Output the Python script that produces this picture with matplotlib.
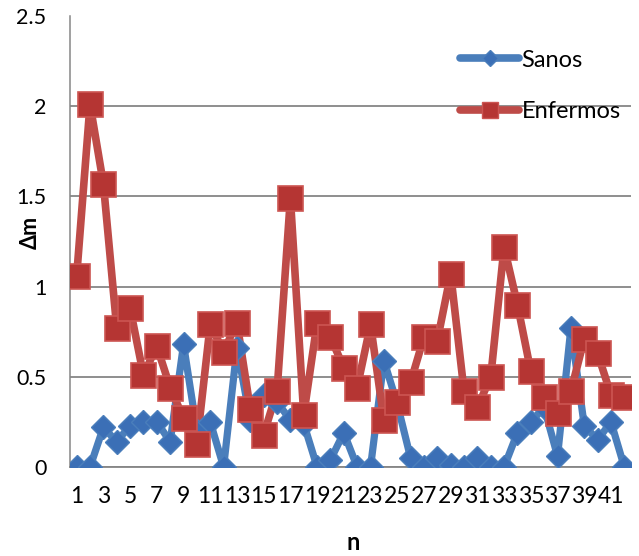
import matplotlib
matplotlib.use("Agg")
import matplotlib.pyplot as plt
from matplotlib.lines import Line2D

n = list(range(1, 43))
sanos = [0, 0, 0.22, 0.14, 0.23, 0.25, 0.25, 0.14, 0.68, 0.20,
         0.25, 0, 0.66, 0.26, 0.40, 0.36, 0.26, 0.24, 0, 0.04,
         0.19, 0, 0, 0.59, 0.35, 0.05, 0, 0.05, 0.01, 0,
         0.05, 0, 0, 0.19, 0.25, 0.33, 0.06, 0.77, 0.23, 0.15,
         0.25, 0]
enfermos = [1.06, 2.01, 1.57, 0.77, 0.88, 0.51, 0.67, 0.44, 0.27, 0.13,
            0.79, 0.64, 0.80, 0.32, 0.18, 0.42, 1.49, 0.29, 0.80, 0.72,
            0.55, 0.44, 0.79, 0.26, 0.36, 0.47, 0.72, 0.70, 1.07, 0.42,
            0.33, 0.50, 1.22, 0.90, 0.53, 0.39, 0.30, 0.42, 0.71, 0.63,
            0.40, 0.39]
xticks = list(range(1, 42, 2))
yticks = [0, 0.5, 1, 1.5, 2, 2.5]
ytick_labels = ["0", "0.5", "1", "1.5", "2", "2.5"]

plt.rcParams['font.family'] = ['Lato', 'DejaVu Sans']

fig = plt.figure(figsize=(6.39, 5.56), dpi=100)
ax = fig.add_axes([70/639, 89/556, 561/639, 451/556])

blue_line = '#4a7ebb'
blue_face = '#3b6fb6'
red_line = '#be4b48'
red_face = '#b53533'
red_edge = '#cc5552'

# lines
ax.plot(n, sanos, color=blue_line, lw=5.2, solid_capstyle='round', solid_joinstyle='round', zorder=2)
ax.plot(n, enfermos, color=red_line, lw=5.5, solid_capstyle='round', solid_joinstyle='round', zorder=3)
# markers
ax.plot(n, sanos, ls='none', marker='D', ms=12.5, mfc=blue_face, mec='#4a7ebb', mew=1, zorder=4)
ax.plot(n, enfermos, ls='none', marker='s', ms=18, mfc=red_face, mec=red_edge, mew=1.2, zorder=5)

# legend proxies
h1 = Line2D([], [], color=blue_line, lw=5.5, solid_capstyle='round', marker='D', ms=12.5,
            mfc=blue_face, mec='#4a7ebb')
h2 = Line2D([], [], color=red_line, lw=5.5, solid_capstyle='round', marker='s', ms=18,
            mfc=red_face, mec=red_edge)
leg = fig.legend([h1, h2], ['Sanos', 'Enfermos'], loc='center left',
                 bbox_to_anchor=(460/639, 1 - 86/556), frameon=False, fontsize=17,
                 handlelength=2.5, handletextpad=0.1, labelspacing=1.3,
                 borderpad=0, borderaxespad=0, markerscale=0.62, numpoints=1)

ax.set_xlim(0.5, 42.5)
ax.set_ylim(0, 2.5)
ax.set_xticks(xticks)
ax.set_xticklabels([str(v) for v in xticks])
ax.set_yticks(yticks)
ax.set_yticklabels(ytick_labels)
ax.tick_params(axis='both', length=0, colors='black')
ax.tick_params(axis='y', pad=17, labelsize=15.5)
ax.tick_params(axis='x', pad=14, labelsize=16.5)

ax.yaxis.grid(True, color='#868686', lw=1.3)
ax.set_axisbelow(True)
ax.get_ygridlines()[-1].set_visible(False)
for s in ['top', 'right']:
    ax.spines[s].set_visible(False)
ax.spines['left'].set_color('#868686')
ax.spines['left'].set_linewidth(1.1)
ax.spines['bottom'].set_color('#868686')
ax.spines['bottom'].set_linewidth(1.3)

fig.text(30/639, 1 - 232/556, 'Δm', rotation=90, ha='center', va='center',
         fontsize=15.5, fontweight='bold')
fig.text(353/639, 1 - 543/556, 'n', ha='center', va='center', fontsize=17, fontweight='bold')

fig.savefig('out.png', dpi=100)
